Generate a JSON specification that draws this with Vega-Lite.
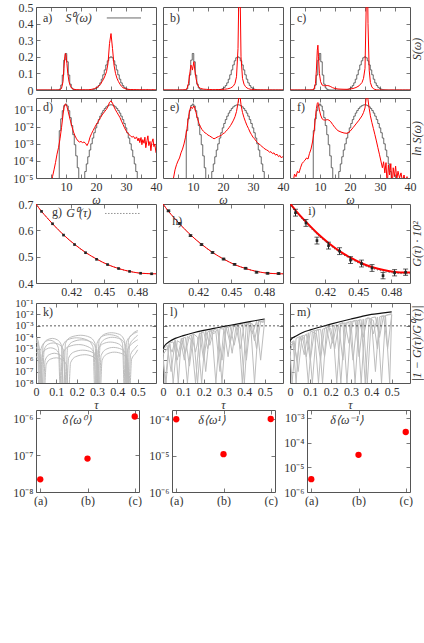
{
"$schema":"https://vega.github.io/schema/vega-lite/v6.json",
"background":"white",
"padding":{"left":12,"top":0,"right":2,"bottom":0},
"columns":5,
"bounds":"flush",
"align":{"row":"each","column":"each"},
"spacing":{"row":8,"column":1},
"config":{
 "font":"Liberation Serif",
 "view":{"stroke":"#555","strokeWidth":1},
 "axis":{"domain":false,"grid":false,"ticks":true,"tickSize":-4,"tickColor":"#555","tickWidth":0.8,"domainColor":"#555","domainWidth":1,"labelFont":"Liberation Serif","labelFontSize":12,"labelColor":"#333","labelPadding":7,"labelFlush":false,"labelOverlap":false,"titleFont":"Liberation Serif","titleFontSize":13,"titleColor":"#333","titleFontWeight":"normal"},
 "text":{"font":"Liberation Serif","fontSize":12,"color":"#333"}
},
"datasets":{
 "s0":[{"w":0,"s":1e-9},{"w":7.5,"s":1e-9},{"w":8,"s":0.006},{"w":8.5,"s":0.03},{"w":9,"s":0.09},{"w":9.5,"s":0.18},{"w":10,"s":0.22},{"w":10.5,"s":0.17},{"w":11,"s":0.09},{"w":11.5,"s":0.035},{"w":12,"s":0.012},{"w":12.5,"s":0.0035},{"w":13,"s":0.0009},{"w":13.5,"s":0.0002},{"w":14,"s":4e-5},{"w":14.5,"s":8e-6},{"w":15,"s":1e-9},{"w":15.5,"s":2.5e-6},{"w":16,"s":8e-6},{"w":16.5,"s":2.4e-5},{"w":17,"s":6.7e-5},{"w":17.5,"s":0.000177},{"w":18,"s":0.00044},{"w":18.5,"s":0.00102},{"w":19,"s":0.00222},{"w":19.5,"s":0.00456},{"w":20,"s":0.0088},{"w":20.5,"s":0.0159},{"w":21,"s":0.027},{"w":21.5,"s":0.043},{"w":22,"s":0.065},{"w":22.5,"s":0.0916},{"w":23,"s":0.121},{"w":23.5,"s":0.151},{"w":24,"s":0.176},{"w":24.5,"s":0.194},{"w":25,"s":0.2},{"w":25.5,"s":0.194},{"w":26,"s":0.176},{"w":26.5,"s":0.151},{"w":27,"s":0.121},{"w":27.5,"s":0.0916},{"w":28,"s":0.065},{"w":28.5,"s":0.043},{"w":29,"s":0.027},{"w":29.5,"s":0.0159},{"w":30,"s":0.0088},{"w":30.5,"s":0.00456},{"w":31,"s":0.00222},{"w":31.5,"s":0.00102},{"w":32,"s":0.00044},{"w":32.5,"s":0.000177},{"w":33,"s":6.7e-5},{"w":33.5,"s":2.4e-5},{"w":34,"s":8e-6},{"w":34.5,"s":2.5e-6},{"w":35,"s":1e-9},{"w":40,"s":1e-9}],
 "ra":[{"w":0,"s":1e-9},{"w":5,"s":3e-6},{"w":5.5,"s":1.2e-5},{"w":6,"s":3e-5},{"w":6.5,"s":8e-5},{"w":7,"s":0.00025},{"w":7.5,"s":0.0006},{"w":8,"s":0.002},{"w":8.5,"s":0.009},{"w":9,"s":0.05},{"w":9.3,"s":0.13},{"w":9.6,"s":0.2},{"w":9.8,"s":0.22},{"w":10,"s":0.21},{"w":10.3,"s":0.16},{"w":10.6,"s":0.1},{"w":11,"s":0.05},{"w":11.5,"s":0.022},{"w":12,"s":0.01},{"w":12.5,"s":0.005},{"w":13,"s":0.003},{"w":13.5,"s":0.002},{"w":14,"s":0.0015},{"w":14.5,"s":0.0013},{"w":15,"s":0.0014},{"w":15.5,"s":0.0012},{"w":16,"s":0.0013},{"w":16.5,"s":0.0011},{"w":17,"s":0.0008},{"w":17.5,"s":0.0012},{"w":18,"s":0.0025},{"w":18.5,"s":0.004},{"w":19,"s":0.006},{"w":19.5,"s":0.009},{"w":20,"s":0.013},{"w":20.5,"s":0.018},{"w":21,"s":0.025},{"w":21.5,"s":0.035},{"w":22,"s":0.05},{"w":22.5,"s":0.065},{"w":23,"s":0.085},{"w":23.5,"s":0.11},{"w":24,"s":0.16},{"w":24.5,"s":0.28},{"w":25,"s":0.34},{"w":25.5,"s":0.25},{"w":26,"s":0.15},{"w":26.5,"s":0.1},{"w":27,"s":0.07},{"w":27.5,"s":0.05},{"w":28,"s":0.035},{"w":28.5,"s":0.022},{"w":29,"s":0.014},{"w":29.5,"s":0.009},{"w":30,"s":0.006},{"w":30.5,"s":0.0045},{"w":31,"s":0.0035},{"w":31.5,"s":0.003},{"w":32,"s":0.0025},{"w":32.5,"s":0.0028},{"w":33,"s":0.002},{"w":33.5,"s":0.0026},{"w":34,"s":0.0015},{"w":34.3,"s":0.0022},{"w":34.6,"s":0.0012},{"w":35,"s":0.0024},{"w":35.3,"s":0.0009},{"w":35.6,"s":0.0018},{"w":36,"s":0.0011},{"w":36.3,"s":0.0025},{"w":36.6,"s":0.0006},{"w":37,"s":0.0016},{"w":37.3,"s":0.003},{"w":37.6,"s":0.0008},{"w":38,"s":0.0014},{"w":38.3,"s":0.0004},{"w":38.6,"s":0.0012},{"w":39,"s":0.002},{"w":39.3,"s":0.0007},{"w":39.6,"s":0.001},{"w":40,"s":0.0003}],
 "rb":[{"w":0,"s":1e-9},{"w":3.5,"s":1e-5},{"w":4,"s":3e-5},{"w":4.5,"s":6e-5},{"w":5,"s":0.0001},{"w":5.5,"s":0.00015},{"w":6,"s":0.0003},{"w":6.5,"s":0.0005},{"w":7,"s":0.001},{"w":7.5,"s":0.0025},{"w":8,"s":0.008},{"w":8.5,"s":0.04},{"w":9,"s":0.11},{"w":9.3,"s":0.15},{"w":9.6,"s":0.14},{"w":9.8,"s":0.12},{"w":10,"s":0.14},{"w":10.3,"s":0.17},{"w":10.6,"s":0.12},{"w":11,"s":0.07},{"w":11.5,"s":0.03},{"w":12,"s":0.016},{"w":12.5,"s":0.01},{"w":13,"s":0.007},{"w":13.5,"s":0.0055},{"w":14,"s":0.0045},{"w":14.5,"s":0.004},{"w":15,"s":0.0033},{"w":15.5,"s":0.003},{"w":16,"s":0.0026},{"w":16.5,"s":0.0023},{"w":17,"s":0.002},{"w":17.5,"s":0.0022},{"w":18,"s":0.0025},{"w":18.5,"s":0.0027},{"w":19,"s":0.003},{"w":19.5,"s":0.0033},{"w":20,"s":0.004},{"w":20.5,"s":0.0045},{"w":21,"s":0.0055},{"w":21.5,"s":0.007},{"w":22,"s":0.009},{"w":22.5,"s":0.012},{"w":23,"s":0.017},{"w":23.5,"s":0.025},{"w":24,"s":0.04},{"w":24.5,"s":0.08},{"w":25,"s":0.25},{"w":25.3,"s":0.6},{"w":25.5,"s":0.9},{"w":25.7,"s":0.6},{"w":26,"s":0.2},{"w":26.5,"s":0.07},{"w":27,"s":0.035},{"w":27.5,"s":0.02},{"w":28,"s":0.012},{"w":28.5,"s":0.008},{"w":29,"s":0.005},{"w":29.5,"s":0.0035},{"w":30,"s":0.0025},{"w":30.5,"s":0.002},{"w":31,"s":0.0015},{"w":31.5,"s":0.0012},{"w":32,"s":0.001},{"w":32.5,"s":0.00085},{"w":33,"s":0.0007},{"w":33.5,"s":0.0006},{"w":34,"s":0.0005},{"w":34.5,"s":0.00045},{"w":35,"s":0.0004},{"w":35.5,"s":0.00033},{"w":36,"s":0.00035},{"w":36.5,"s":0.00027},{"w":37,"s":0.0003},{"w":37.5,"s":0.00022},{"w":38,"s":0.00025},{"w":38.5,"s":0.00018},{"w":39,"s":0.00021},{"w":39.5,"s":0.00015},{"w":40,"s":0.00019}],
 "rc":[{"w":0,"s":1e-9},{"w":1,"s":5e-6},{"w":1.5,"s":1.7e-5},{"w":2,"s":1.2e-5},{"w":2.5,"s":2.5e-5},{"w":3,"s":2e-5},{"w":3.5,"s":4e-5},{"w":4,"s":7e-5},{"w":4.5,"s":9e-5},{"w":5,"s":0.00011},{"w":5.5,"s":0.00015},{"w":6,"s":0.00013},{"w":6.5,"s":0.00028},{"w":7,"s":0.0005},{"w":7.5,"s":0.0013},{"w":8,"s":0.005},{"w":8.5,"s":0.04},{"w":8.8,"s":0.12},{"w":9.1,"s":0.24},{"w":9.3,"s":0.27},{"w":9.5,"s":0.2},{"w":9.8,"s":0.1},{"w":10.2,"s":0.05},{"w":10.7,"s":0.03},{"w":11.2,"s":0.026},{"w":11.8,"s":0.025},{"w":12.4,"s":0.027},{"w":13,"s":0.025},{"w":13.6,"s":0.02},{"w":14.2,"s":0.014},{"w":15,"s":0.009},{"w":16,"s":0.006},{"w":17,"s":0.005},{"w":18,"s":0.0044},{"w":19,"s":0.0042},{"w":20,"s":0.0055},{"w":21,"s":0.009},{"w":22,"s":0.015},{"w":23,"s":0.025},{"w":24,"s":0.045},{"w":24.5,"s":0.07},{"w":25,"s":0.13},{"w":25.4,"s":0.5},{"w":25.7,"s":0.9},{"w":26,"s":0.4},{"w":26.4,"s":0.12},{"w":26.8,"s":0.045},{"w":27.3,"s":0.018},{"w":27.8,"s":0.008},{"w":28.3,"s":0.0035},{"w":28.8,"s":0.0015},{"w":29.3,"s":0.0006},{"w":29.8,"s":0.00025},{"w":30.3,"s":0.0001},{"w":30.8,"s":4e-5},{"w":31.2,"s":9e-5},{"w":31.6,"s":2e-5},{"w":32,"s":8e-5},{"w":32.4,"s":3e-6},{"w":32.8,"s":6e-5},{"w":33.2,"s":1.5e-5},{"w":33.6,"s":7e-5},{"w":34,"s":2e-6},{"w":34.4,"s":4e-5},{"w":34.8,"s":1.2e-5},{"w":35.2,"s":5e-5},{"w":35.6,"s":8e-6},{"w":36,"s":2.5e-5},{"w":36.5,"s":1e-5},{"w":37,"s":2e-5},{"w":37.5,"s":6e-6},{"w":38,"s":1.5e-5},{"w":38.5,"s":5e-6},{"w":39,"s":1.2e-5},{"w":39.5,"s":4e-6},{"w":40,"s":8e-6}],
 "gcurve":[{"t":0.388,"g":0.7},{"t":0.393,"g":0.672},{"t":0.398,"g":0.648},{"t":0.403,"g":0.625},{"t":0.408,"g":0.603},{"t":0.413,"g":0.583},{"t":0.418,"g":0.564},{"t":0.423,"g":0.547},{"t":0.428,"g":0.531},{"t":0.433,"g":0.516},{"t":0.438,"g":0.503},{"t":0.443,"g":0.491},{"t":0.448,"g":0.48},{"t":0.453,"g":0.47},{"t":0.458,"g":0.462},{"t":0.463,"g":0.455},{"t":0.468,"g":0.449},{"t":0.473,"g":0.444},{"t":0.478,"g":0.44},{"t":0.483,"g":0.437},{"t":0.488,"g":0.436},{"t":0.493,"g":0.435},{"t":0.497,"g":0.435}],
 "icurve":[{"t":0.388,"g":0.702},{"t":0.393,"g":0.676},{"t":0.403,"g":0.63},{"t":0.413,"g":0.588},{"t":0.423,"g":0.552},{"t":0.433,"g":0.521},{"t":0.443,"g":0.496},{"t":0.453,"g":0.475},{"t":0.463,"g":0.46},{"t":0.473,"g":0.449},{"t":0.483,"g":0.442},{"t":0.493,"g":0.44},{"t":0.497,"g":0.44}],
 "gpts":[{"t":0.393,"g":0.672},{"t":0.403,"g":0.625},{"t":0.413,"g":0.582},{"t":0.423,"g":0.546},{"t":0.433,"g":0.515},{"t":0.443,"g":0.49},{"t":0.453,"g":0.47},{"t":0.463,"g":0.455},{"t":0.473,"g":0.444},{"t":0.483,"g":0.437},{"t":0.493,"g":0.435}],
 "hpts":[{"t":0.393,"g":0.674,"lo":0.671,"hi":0.677},{"t":0.403,"g":0.626,"lo":0.623,"hi":0.629},{"t":0.413,"g":0.58,"lo":0.577,"hi":0.583},{"t":0.423,"g":0.546,"lo":0.543,"hi":0.549},{"t":0.433,"g":0.516,"lo":0.513,"hi":0.519},{"t":0.443,"g":0.491,"lo":0.488,"hi":0.494},{"t":0.453,"g":0.471,"lo":0.468,"hi":0.474},{"t":0.463,"g":0.456,"lo":0.453,"hi":0.459},{"t":0.473,"g":0.441,"lo":0.438,"hi":0.444},{"t":0.483,"g":0.437,"lo":0.434,"hi":0.44},{"t":0.493,"g":0.436,"lo":0.433,"hi":0.439}],
 "ipts":[{"t":0.393,"g":0.667,"lo":0.654,"hi":0.68},{"t":0.4025,"g":0.628,"lo":0.615,"hi":0.641},{"t":0.4125,"g":0.561,"lo":0.548,"hi":0.574},{"t":0.423,"g":0.542,"lo":0.529,"hi":0.555},{"t":0.433,"g":0.521,"lo":0.508,"hi":0.534},{"t":0.443,"g":0.487,"lo":0.474,"hi":0.5},{"t":0.453,"g":0.474,"lo":0.461,"hi":0.487},{"t":0.4625,"g":0.457,"lo":0.444,"hi":0.47},{"t":0.4725,"g":0.428,"lo":0.416,"hi":0.44},{"t":0.483,"g":0.439,"lo":0.427,"hi":0.451},{"t":0.493,"g":0.441,"lo":0.429,"hi":0.453}],
 "kg":[
  {"c":1,"t":0,"v":1e-4},{"c":1,"t":0.012,"v":4e-5},{"c":1,"t":0.025,"v":1e-9},{"c":1,"t":0.035,"v":2e-5},{"c":1,"t":0.055,"v":6e-5},{"c":1,"t":0.08,"v":8e-5},{"c":1,"t":0.105,"v":6e-5},{"c":1,"t":0.125,"v":2e-5},{"c":1,"t":0.135,"v":1e-9},{"c":1,"t":0.145,"v":3e-5},{"c":1,"t":0.17,"v":1e-4},{"c":1,"t":0.22,"v":1.5e-4},{"c":1,"t":0.265,"v":1e-4},{"c":1,"t":0.29,"v":3e-5},{"c":1,"t":0.3,"v":1e-9},{"c":1,"t":0.31,"v":5e-5},{"c":1,"t":0.335,"v":1.8e-4},{"c":1,"t":0.37,"v":2.5e-4},{"c":1,"t":0.41,"v":1.8e-4},{"c":1,"t":0.435,"v":5e-5},{"c":1,"t":0.445,"v":1e-9},{"c":1,"t":0.455,"v":6e-5},{"c":1,"t":0.475,"v":2e-4},{"c":1,"t":0.5,"v":4e-4},
  {"c":2,"t":0,"v":4e-5},{"c":2,"t":0.015,"v":1.5e-5},{"c":2,"t":0.03,"v":1e-9},{"c":2,"t":0.04,"v":8e-6},{"c":2,"t":0.06,"v":2.5e-5},{"c":2,"t":0.085,"v":3.2e-5},{"c":2,"t":0.11,"v":2.5e-5},{"c":2,"t":0.135,"v":8e-6},{"c":2,"t":0.145,"v":1e-9},{"c":2,"t":0.155,"v":1.2e-5},{"c":2,"t":0.18,"v":4e-5},{"c":2,"t":0.225,"v":6e-5},{"c":2,"t":0.27,"v":4e-5},{"c":2,"t":0.295,"v":1.2e-5},{"c":2,"t":0.305,"v":1e-9},{"c":2,"t":0.315,"v":2e-5},{"c":2,"t":0.34,"v":7e-5},{"c":2,"t":0.375,"v":1e-4},{"c":2,"t":0.415,"v":7e-5},{"c":2,"t":0.44,"v":2e-5},{"c":2,"t":0.45,"v":1e-9},{"c":2,"t":0.46,"v":2e-5},{"c":2,"t":0.48,"v":7e-5},{"c":2,"t":0.5,"v":1.5e-4},
  {"c":3,"t":0,"v":1.5e-5},{"c":3,"t":0.01,"v":5e-6},{"c":3,"t":0.02,"v":1e-9},{"c":3,"t":0.03,"v":3e-6},{"c":3,"t":0.05,"v":9e-6},{"c":3,"t":0.072,"v":1.2e-5},{"c":3,"t":0.095,"v":9e-6},{"c":3,"t":0.115,"v":3e-6},{"c":3,"t":0.125,"v":1e-9},{"c":3,"t":0.135,"v":5e-6},{"c":3,"t":0.16,"v":1.5e-5},{"c":3,"t":0.21,"v":2.3e-5},{"c":3,"t":0.255,"v":1.5e-5},{"c":3,"t":0.285,"v":5e-6},{"c":3,"t":0.295,"v":1e-9},{"c":3,"t":0.305,"v":8e-6},{"c":3,"t":0.33,"v":2.7e-5},{"c":3,"t":0.365,"v":3.8e-5},{"c":3,"t":0.405,"v":2.7e-5},{"c":3,"t":0.43,"v":8e-6},{"c":3,"t":0.44,"v":1e-9},{"c":3,"t":0.45,"v":8e-6},{"c":3,"t":0.475,"v":3e-5},{"c":3,"t":0.5,"v":6e-5},
  {"c":4,"t":0,"v":5e-6},{"c":4,"t":0.018,"v":2e-6},{"c":4,"t":0.035,"v":1e-9},{"c":4,"t":0.045,"v":1e-6},{"c":4,"t":0.065,"v":3e-6},{"c":4,"t":0.09,"v":4e-6},{"c":4,"t":0.115,"v":3e-6},{"c":4,"t":0.14,"v":1e-6},{"c":4,"t":0.15,"v":1e-9},{"c":4,"t":0.16,"v":1.5e-6},{"c":4,"t":0.185,"v":5e-6},{"c":4,"t":0.23,"v":7.5e-6},{"c":4,"t":0.275,"v":5e-6},{"c":4,"t":0.3,"v":1.5e-6},{"c":4,"t":0.31,"v":1e-9},{"c":4,"t":0.32,"v":2.5e-6},{"c":4,"t":0.345,"v":9e-6},{"c":4,"t":0.38,"v":1.3e-5},{"c":4,"t":0.42,"v":9e-6},{"c":4,"t":0.445,"v":2.5e-6},{"c":4,"t":0.455,"v":1e-9},{"c":4,"t":0.465,"v":3e-6},{"c":4,"t":0.485,"v":1e-5},{"c":4,"t":0.5,"v":2e-5},
  {"c":5,"t":0,"v":7e-5},{"c":5,"t":0.008,"v":2.5e-5},{"c":5,"t":0.015,"v":1e-9},{"c":5,"t":0.025,"v":1e-5},{"c":5,"t":0.045,"v":4e-5},{"c":5,"t":0.068,"v":5.5e-5},{"c":5,"t":0.09,"v":4e-5},{"c":5,"t":0.11,"v":1.2e-5},{"c":5,"t":0.12,"v":1e-9},{"c":5,"t":0.13,"v":1.5e-5},{"c":5,"t":0.155,"v":6e-5},{"c":5,"t":0.2,"v":9e-5},{"c":5,"t":0.25,"v":6e-5},{"c":5,"t":0.28,"v":1.5e-5},{"c":5,"t":0.29,"v":1e-9},{"c":5,"t":0.3,"v":3e-5},{"c":5,"t":0.325,"v":1.2e-4},{"c":5,"t":0.36,"v":1.7e-4},{"c":5,"t":0.4,"v":1.2e-4},{"c":5,"t":0.425,"v":3e-5},{"c":5,"t":0.435,"v":1e-9},{"c":5,"t":0.445,"v":4e-5},{"c":5,"t":0.47,"v":1.5e-4},{"c":5,"t":0.5,"v":3e-4},
  {"c":6,"t":0,"v":2e-6},{"c":6,"t":0.02,"v":8e-7},{"c":6,"t":0.04,"v":1e-9},{"c":6,"t":0.05,"v":4e-7},{"c":6,"t":0.07,"v":1.2e-6},{"c":6,"t":0.1,"v":1.6e-6},{"c":6,"t":0.125,"v":1.2e-6},{"c":6,"t":0.15,"v":4e-7},{"c":6,"t":0.16,"v":1e-9},{"c":6,"t":0.17,"v":6e-7},{"c":6,"t":0.195,"v":2e-6},{"c":6,"t":0.24,"v":3e-6},{"c":6,"t":0.28,"v":2e-6},{"c":6,"t":0.305,"v":6e-7},{"c":6,"t":0.315,"v":1e-9},{"c":6,"t":0.325,"v":1e-6},{"c":6,"t":0.35,"v":3.5e-6},{"c":6,"t":0.385,"v":5e-6},{"c":6,"t":0.425,"v":3.5e-6},{"c":6,"t":0.45,"v":1e-6},{"c":6,"t":0.46,"v":1e-9},{"c":6,"t":0.47,"v":1.2e-6},{"c":6,"t":0.49,"v":4e-6},{"c":6,"t":0.5,"v":8e-6}],
 "lg":[
  {"c":1,"t":0,"v":8e-6},{"c":1,"t":0.02,"v":2e-5},{"c":1,"t":0.04,"v":1e-7},{"c":1,"t":0.06,"v":5e-5},{"c":1,"t":0.08,"v":2e-6},{"c":1,"t":0.1,"v":9e-5},{"c":1,"t":0.12,"v":1e-8},{"c":1,"t":0.14,"v":1.5e-4},{"c":1,"t":0.16,"v":5e-6},{"c":1,"t":0.18,"v":2.5e-4},{"c":1,"t":0.2,"v":1e-6},{"c":1,"t":0.22,"v":3e-4},{"c":1,"t":0.24,"v":4e-4},{"c":1,"t":0.26,"v":1e-8},{"c":1,"t":0.28,"v":6e-4},{"c":1,"t":0.3,"v":5e-4},{"c":1,"t":0.32,"v":2e-6},{"c":1,"t":0.34,"v":1e-3},{"c":1,"t":0.36,"v":8e-4},{"c":1,"t":0.38,"v":1e-5},{"c":1,"t":0.4,"v":1.5e-3},{"c":1,"t":0.42,"v":1.2e-3},{"c":1,"t":0.44,"v":2e-4},{"c":1,"t":0.46,"v":2.5e-3},{"c":1,"t":0.48,"v":1e-6},{"c":1,"t":0.5,"v":3e-3},
  {"c":2,"t":0,"v":5e-6},{"c":2,"t":0.01,"v":1e-8},{"c":2,"t":0.03,"v":3e-5},{"c":2,"t":0.05,"v":4e-5},{"c":2,"t":0.07,"v":1e-6},{"c":2,"t":0.09,"v":7e-5},{"c":2,"t":0.11,"v":1e-4},{"c":2,"t":0.13,"v":3e-7},{"c":2,"t":0.15,"v":2e-4},{"c":2,"t":0.17,"v":1e-4},{"c":2,"t":0.19,"v":1e-8},{"c":2,"t":0.21,"v":3.5e-4},{"c":2,"t":0.23,"v":2e-5},{"c":2,"t":0.25,"v":5e-4},{"c":2,"t":0.27,"v":4e-4},{"c":2,"t":0.29,"v":1e-6},{"c":2,"t":0.31,"v":8e-4},{"c":2,"t":0.33,"v":3e-5},{"c":2,"t":0.35,"v":1.1e-3},{"c":2,"t":0.37,"v":1e-3},{"c":2,"t":0.39,"v":1e-8},{"c":2,"t":0.41,"v":1.6e-3},{"c":2,"t":0.43,"v":2e-3},{"c":2,"t":0.45,"v":5e-5},{"c":2,"t":0.47,"v":2.8e-3},{"c":2,"t":0.49,"v":2e-3},{"c":2,"t":0.5,"v":3.5e-3},
  {"c":3,"t":0,"v":3e-6},{"c":3,"t":0.02,"v":1e-5},{"c":3,"t":0.035,"v":2.5e-5},{"c":3,"t":0.05,"v":1e-8},{"c":3,"t":0.07,"v":5e-5},{"c":3,"t":0.09,"v":3e-5},{"c":3,"t":0.105,"v":1e-6},{"c":3,"t":0.12,"v":1.2e-4},{"c":3,"t":0.14,"v":6e-5},{"c":3,"t":0.16,"v":1e-8},{"c":3,"t":0.18,"v":2e-4},{"c":3,"t":0.2,"v":3e-4},{"c":3,"t":0.22,"v":1e-5},{"c":3,"t":0.24,"v":4.5e-4},{"c":3,"t":0.26,"v":3e-4},{"c":3,"t":0.28,"v":1e-7},{"c":3,"t":0.3,"v":7e-4},{"c":3,"t":0.32,"v":8e-4},{"c":3,"t":0.34,"v":4e-6},{"c":3,"t":0.36,"v":1.2e-3},{"c":3,"t":0.38,"v":7e-4},{"c":3,"t":0.4,"v":1e-8},{"c":3,"t":0.42,"v":1.8e-3},{"c":3,"t":0.44,"v":1.5e-3},{"c":3,"t":0.46,"v":1e-5},{"c":3,"t":0.48,"v":2.5e-3},{"c":3,"t":0.5,"v":2e-3},
  {"c":4,"t":0,"v":1e-6},{"c":4,"t":0.015,"v":1e-8},{"c":4,"t":0.03,"v":2e-5},{"c":4,"t":0.045,"v":5e-6},{"c":4,"t":0.06,"v":6e-5},{"c":4,"t":0.075,"v":1e-8},{"c":4,"t":0.09,"v":8e-5},{"c":4,"t":0.11,"v":4e-6},{"c":4,"t":0.13,"v":1.3e-4},{"c":4,"t":0.15,"v":1.8e-4},{"c":4,"t":0.17,"v":1e-8},{"c":4,"t":0.19,"v":3e-4},{"c":4,"t":0.21,"v":1e-7},{"c":4,"t":0.23,"v":4e-4},{"c":4,"t":0.25,"v":2e-4},{"c":4,"t":0.27,"v":5e-4},{"c":4,"t":0.29,"v":1e-8},{"c":4,"t":0.31,"v":7e-4},{"c":4,"t":0.33,"v":9e-4},{"c":4,"t":0.35,"v":2e-5},{"c":4,"t":0.37,"v":1.1e-3},{"c":4,"t":0.39,"v":1.5e-3},{"c":4,"t":0.41,"v":1e-6},{"c":4,"t":0.43,"v":2e-3},{"c":4,"t":0.45,"v":1e-8},{"c":4,"t":0.47,"v":2.2e-3},{"c":4,"t":0.5,"v":3e-3}],
 "mg":[
  {"c":1,"t":0,"v":3e-5},{"c":1,"t":0.02,"v":5e-5},{"c":1,"t":0.04,"v":1e-7},{"c":1,"t":0.06,"v":1.5e-4},{"c":1,"t":0.08,"v":2e-6},{"c":1,"t":0.1,"v":3e-4},{"c":1,"t":0.12,"v":4e-4},{"c":1,"t":0.14,"v":1e-8},{"c":1,"t":0.16,"v":5e-4},{"c":1,"t":0.18,"v":7e-4},{"c":1,"t":0.2,"v":1e-5},{"c":1,"t":0.22,"v":1.2e-3},{"c":1,"t":0.24,"v":1e-3},{"c":1,"t":0.26,"v":1e-6},{"c":1,"t":0.28,"v":2e-3},{"c":1,"t":0.3,"v":2.5e-3},{"c":1,"t":0.32,"v":1e-8},{"c":1,"t":0.34,"v":3.5e-3},{"c":1,"t":0.36,"v":1e-4},{"c":1,"t":0.38,"v":5e-3},{"c":1,"t":0.4,"v":4e-3},{"c":1,"t":0.42,"v":1e-7},{"c":1,"t":0.44,"v":6e-3},{"c":1,"t":0.46,"v":8e-3},{"c":1,"t":0.48,"v":1e-5},{"c":1,"t":0.5,"v":1e-2},
  {"c":2,"t":0,"v":1e-5},{"c":2,"t":0.01,"v":1e-8},{"c":2,"t":0.03,"v":8e-5},{"c":2,"t":0.05,"v":1.2e-4},{"c":2,"t":0.07,"v":3e-6},{"c":2,"t":0.09,"v":2.5e-4},{"c":2,"t":0.11,"v":1e-8},{"c":2,"t":0.13,"v":4e-4},{"c":2,"t":0.15,"v":5e-4},{"c":2,"t":0.17,"v":2e-6},{"c":2,"t":0.19,"v":9e-4},{"c":2,"t":0.21,"v":1e-3},{"c":2,"t":0.23,"v":1e-8},{"c":2,"t":0.25,"v":1.5e-3},{"c":2,"t":0.27,"v":1.8e-3},{"c":2,"t":0.29,"v":3e-5},{"c":2,"t":0.31,"v":2.5e-3},{"c":2,"t":0.33,"v":3e-3},{"c":2,"t":0.35,"v":1e-8},{"c":2,"t":0.37,"v":4e-3},{"c":2,"t":0.39,"v":5e-3},{"c":2,"t":0.41,"v":2e-4},{"c":2,"t":0.43,"v":6e-3},{"c":2,"t":0.45,"v":1e-8},{"c":2,"t":0.47,"v":8e-3},{"c":2,"t":0.5,"v":1.2e-2},
  {"c":3,"t":0,"v":2e-5},{"c":3,"t":0.02,"v":3e-5},{"c":3,"t":0.035,"v":1e-6},{"c":3,"t":0.05,"v":1e-4},{"c":3,"t":0.07,"v":1.5e-4},{"c":3,"t":0.09,"v":1e-8},{"c":3,"t":0.11,"v":3e-4},{"c":3,"t":0.13,"v":2e-4},{"c":3,"t":0.15,"v":1e-6},{"c":3,"t":0.17,"v":6e-4},{"c":3,"t":0.19,"v":1e-3},{"c":3,"t":0.21,"v":3e-5},{"c":3,"t":0.23,"v":1.3e-3},{"c":3,"t":0.25,"v":1e-8},{"c":3,"t":0.27,"v":1.7e-3},{"c":3,"t":0.29,"v":2e-3},{"c":3,"t":0.31,"v":1e-6},{"c":3,"t":0.33,"v":2.7e-3},{"c":3,"t":0.35,"v":3.5e-3},{"c":3,"t":0.37,"v":1e-8},{"c":3,"t":0.39,"v":4.5e-3},{"c":3,"t":0.41,"v":3e-3},{"c":3,"t":0.43,"v":1e-5},{"c":3,"t":0.45,"v":7e-3},{"c":3,"t":0.47,"v":6e-3},{"c":3,"t":0.49,"v":1e-8},{"c":3,"t":0.5,"v":9e-3},
  {"c":4,"t":0,"v":5e-6},{"c":4,"t":0.015,"v":4e-5},{"c":4,"t":0.03,"v":1e-8},{"c":4,"t":0.045,"v":9e-5},{"c":4,"t":0.06,"v":6e-5},{"c":4,"t":0.08,"v":2e-4},{"c":4,"t":0.1,"v":1e-6},{"c":4,"t":0.12,"v":3.5e-4},{"c":4,"t":0.14,"v":5e-4},{"c":4,"t":0.16,"v":1e-8},{"c":4,"t":0.18,"v":8e-4},{"c":4,"t":0.2,"v":6e-4},{"c":4,"t":0.22,"v":1e-5},{"c":4,"t":0.24,"v":1.4e-3},{"c":4,"t":0.26,"v":2e-3},{"c":4,"t":0.28,"v":1e-8},{"c":4,"t":0.3,"v":2.2e-3},{"c":4,"t":0.32,"v":3e-3},{"c":4,"t":0.34,"v":2e-6},{"c":4,"t":0.36,"v":4e-3},{"c":4,"t":0.38,"v":1e-8},{"c":4,"t":0.4,"v":5e-3},{"c":4,"t":0.42,"v":6e-3},{"c":4,"t":0.44,"v":1e-4},{"c":4,"t":0.46,"v":7e-3},{"c":4,"t":0.48,"v":9e-3},{"c":4,"t":0.5,"v":1e-2}],
 "lb":[{"t":0,"v":1e-5},{"t":0.01,"v":2e-5},{"t":0.03,"v":4e-5},{"t":0.06,"v":8e-5},{"t":0.1,"v":1.4e-4},{"t":0.15,"v":2.5e-4},{"t":0.2,"v":4e-4},{"t":0.25,"v":6e-4},{"t":0.3,"v":9e-4},{"t":0.35,"v":1.3e-3},{"t":0.4,"v":1.9e-3},{"t":0.45,"v":2.8e-3},{"t":0.5,"v":4e-3}],
 "mb":[{"t":0,"v":5e-5},{"t":0.01,"v":8e-5},{"t":0.03,"v":1.3e-4},{"t":0.06,"v":2.5e-4},{"t":0.1,"v":4.5e-4},{"t":0.15,"v":8e-4},{"t":0.2,"v":1.4e-3},{"t":0.25,"v":2.4e-3},{"t":0.3,"v":4e-3},{"t":0.35,"v":6.5e-3},{"t":0.4,"v":1e-2},{"t":0.45,"v":1.3e-2},{"t":0.5,"v":1.7e-2}],
 "d5a":[{"i":0,"v":2.2e-8},{"i":1,"v":8e-8},{"i":2,"v":1.1e-6}],
 "d5b":[{"i":0,"v":1e-4},{"i":1,"v":1.1e-5},{"i":2,"v":1.02e-4}],
 "d5c":[{"i":0,"v":3.3e-6},{"i":1,"v":3.2e-5},{"i":2,"v":2.7e-4}]
},
"concat":[
 {"width":120,"height":83,"resolve":{"axis":{"x":"independent","y":"independent"}},"layer":[
  {"data":{"name":"s0"},"mark":{"type":"line","interpolate":"step","color":"#444","strokeWidth":0.8,"clip":true},"encoding":{"x":{"field":"w","type":"quantitative","scale":{"domain":[0,40],"nice":false},"axis":{"values":[5,10,15,20,25,30,35],"labels":false,"title":null}},"y":{"field":"s","type":"quantitative","scale":{"domain":[0,0.5],"nice":false},"axis":{"values":[0,0.1,0.2,0.3,0.4,0.5],"labelExpr":"datum.value == 0 ? '0' : format(datum.value, '.1f')","title":null}}}},
  {"data":{"name":"ra"},"mark":{"type":"line","color":"#ff0000","strokeWidth":1,"clip":true},"encoding":{"x":{"field":"w","type":"quantitative","axis":null},"y":{"field":"s","type":"quantitative","axis":null}}},
  {"data":{"values":[{}]},"mark":{"type":"text","align":"left","baseline":"middle"},"encoding":{"x":{"datum":2.3,"type":"quantitative","axis":null},"y":{"datum":0.434,"type":"quantitative","axis":null},"text":{"value":"a)"}}},
  {"data":{"values":[{}]},"mark":{"type":"text","align":"left","baseline":"middle","fontStyle":"italic"},"encoding":{"x":{"datum":9.8,"type":"quantitative","axis":null},"y":{"datum":0.434,"type":"quantitative","axis":null},"text":{"value":"S⁰(ω)"}}},
  {"data":{"values":[{}]},"mark":{"type":"rule","color":"#444","strokeWidth":0.8},"encoding":{"x":{"datum":23.6,"type":"quantitative","axis":null},"x2":{"datum":35},"y":{"datum":0.434,"type":"quantitative","axis":null}}},
  {"data":{"name":"s0"},"mark":{"type":"point","opacity":0,"clip":true},"encoding":{"x":{"field":"w","type":"quantitative","axis":{"orient":"top","values":[5,10,15,20,25,30,35],"labels":false,"title":null}},"y":{"field":"s","type":"quantitative","axis":{"orient":"right","values":[0.1,0.2,0.3,0.4],"labels":false,"title":null}}}}
 ]},
 {"width":5,"height":10,"view":{"stroke":"transparent"},"data":{"values":[{}]},"mark":{"type":"point","opacity":0}},
 {"width":120,"height":83,"resolve":{"axis":{"x":"independent","y":"independent"}},"layer":[
  {"data":{"name":"s0"},"mark":{"type":"line","interpolate":"step","color":"#444","strokeWidth":0.8,"clip":true},"encoding":{"x":{"field":"w","type":"quantitative","scale":{"domain":[0,40],"nice":false},"axis":{"values":[5,10,15,20,25,30,35],"labels":false,"title":null}},"y":{"field":"s","type":"quantitative","scale":{"domain":[0,0.5],"nice":false},"axis":{"values":[0.1,0.2,0.3,0.4],"labels":false,"title":null}}}},
  {"data":{"name":"rb"},"mark":{"type":"line","color":"#ff0000","strokeWidth":1,"clip":true},"encoding":{"x":{"field":"w","type":"quantitative","axis":null},"y":{"field":"s","type":"quantitative","axis":null}}},
  {"data":{"values":[{}]},"mark":{"type":"text","align":"left","baseline":"middle"},"encoding":{"x":{"datum":2.3,"type":"quantitative","axis":null},"y":{"datum":0.434,"type":"quantitative","axis":null},"text":{"value":"b)"}}},
  {"data":{"name":"s0"},"mark":{"type":"point","opacity":0,"clip":true},"encoding":{"x":{"field":"w","type":"quantitative","axis":{"orient":"top","values":[5,10,15,20,25,30,35],"labels":false,"title":null}},"y":{"field":"s","type":"quantitative","axis":{"orient":"right","values":[0.1,0.2,0.3,0.4],"labels":false,"title":null}}}}
 ]},
 {"width":5,"height":10,"view":{"stroke":"transparent"},"data":{"values":[{}]},"mark":{"type":"point","opacity":0}},
 {"width":120,"height":83,"resolve":{"axis":{"x":"independent","y":"independent"}},"layer":[
  {"data":{"name":"s0"},"mark":{"type":"line","interpolate":"step","color":"#444","strokeWidth":0.8,"clip":true},"encoding":{"x":{"field":"w","type":"quantitative","scale":{"domain":[0,40],"nice":false},"axis":{"values":[5,10,15,20,25,30,35],"labels":false,"title":null}},"y":{"field":"s","type":"quantitative","scale":{"domain":[0,0.5],"nice":false},"axis":{"values":[0.1,0.2,0.3,0.4],"labels":false,"title":null}}}},
  {"data":{"name":"rc"},"mark":{"type":"line","color":"#ff0000","strokeWidth":1,"clip":true},"encoding":{"x":{"field":"w","type":"quantitative","axis":null},"y":{"field":"s","type":"quantitative","axis":null}}},
  {"data":{"values":[{}]},"mark":{"type":"text","align":"left","baseline":"middle"},"encoding":{"x":{"datum":2.3,"type":"quantitative","axis":null},"y":{"datum":0.434,"type":"quantitative","axis":null},"text":{"value":"c)"}}},
  {"data":{"name":"s0"},"mark":{"type":"point","opacity":0,"clip":true},"encoding":{"x":{"field":"w","type":"quantitative","axis":{"orient":"top","values":[5,10,15,20,25,30,35],"labels":false,"title":null}},"y":{"field":"s","type":"quantitative","axis":{"orient":"right","values":[0.1,0.2,0.3,0.4],"labels":false,"title":"S(ω)","titleAngle":270,"titleBaseline":"top","titlePadding":1,"titleFontSize":12,"titleFontStyle":"italic"}}}}
 ]},

 {"width":120,"height":80,"resolve":{"axis":{"x":"independent","y":"independent"}},"layer":[
  {"data":{"name":"s0"},"mark":{"type":"line","interpolate":"step","color":"#444","strokeWidth":0.8,"clip":true},"encoding":{"x":{"field":"w","type":"quantitative","scale":{"domain":[0,40],"nice":false},"axis":{"values":[5,10,15,20,25,30,35,40],"labelExpr":"datum.value % 10 == 0 ? format(datum.value, 'd') : ''","title":"ω","titleFontSize":12,"titleFontStyle":"italic","titlePadding":2}},"y":{"field":"s","type":"quantitative","scale":{"type":"log","domain":[1e-5,0.5],"nice":false},"axis":{"values":[1e-5,1e-4,1e-3,1e-2,1e-1],"labelExpr":"'10' + ['⁰','⁻¹','⁻²','⁻³','⁻⁴','⁻⁵','⁻⁶','⁻⁷','⁻⁸'][-round(log(datum.value)/LN10)]","title":null}}}},
  {"data":{"name":"ra"},"mark":{"type":"line","color":"#ff0000","strokeWidth":1,"clip":true},"encoding":{"x":{"field":"w","type":"quantitative","axis":null},"y":{"field":"s","type":"quantitative","axis":null}}},
  {"data":{"values":[{}]},"mark":{"type":"text","align":"left","baseline":"middle"},"encoding":{"x":{"datum":2.3,"type":"quantitative","axis":null},"y":{"datum":0.145,"type":"quantitative","axis":null},"text":{"value":"d)"}}},
  {"data":{"name":"s0"},"mark":{"type":"point","opacity":0,"clip":true},"encoding":{"x":{"field":"w","type":"quantitative","axis":{"orient":"top","values":[5,10,15,20,25,30,35],"labels":false,"title":null}},"y":{"field":"s","type":"quantitative","axis":{"orient":"right","values":[1e-4,1e-3,1e-2,1e-1],"labels":false,"title":null}}}}
 ]},
 {"width":5,"height":98,"view":{"stroke":"transparent"},"data":{"values":[{}]},"mark":{"type":"point","opacity":0}},
 {"width":120,"height":80,"resolve":{"axis":{"x":"independent","y":"independent"}},"layer":[
  {"data":{"name":"s0"},"mark":{"type":"line","interpolate":"step","color":"#444","strokeWidth":0.8,"clip":true},"encoding":{"x":{"field":"w","type":"quantitative","scale":{"domain":[0,40],"nice":false},"axis":{"values":[5,10,15,20,25,30,35,40],"labelExpr":"datum.value % 10 == 0 ? format(datum.value, 'd') : ''","title":"ω","titleFontSize":12,"titleFontStyle":"italic","titlePadding":2}},"y":{"field":"s","type":"quantitative","scale":{"type":"log","domain":[1e-5,0.5],"nice":false},"axis":{"values":[1e-4,1e-3,1e-2,1e-1],"labels":false,"title":null}}}},
  {"data":{"name":"rb"},"mark":{"type":"line","color":"#ff0000","strokeWidth":1,"clip":true},"encoding":{"x":{"field":"w","type":"quantitative","axis":null},"y":{"field":"s","type":"quantitative","axis":null}}},
  {"data":{"values":[{}]},"mark":{"type":"text","align":"left","baseline":"middle"},"encoding":{"x":{"datum":2.3,"type":"quantitative","axis":null},"y":{"datum":0.145,"type":"quantitative","axis":null},"text":{"value":"e)"}}},
  {"data":{"name":"s0"},"mark":{"type":"point","opacity":0,"clip":true},"encoding":{"x":{"field":"w","type":"quantitative","axis":{"orient":"top","values":[5,10,15,20,25,30,35],"labels":false,"title":null}},"y":{"field":"s","type":"quantitative","axis":{"orient":"right","values":[1e-4,1e-3,1e-2,1e-1],"labels":false,"title":null}}}}
 ]},
 {"width":5,"height":98,"view":{"stroke":"transparent"},"data":{"values":[{}]},"mark":{"type":"point","opacity":0}},
 {"width":120,"height":80,"resolve":{"axis":{"x":"independent","y":"independent"}},"layer":[
  {"data":{"name":"s0"},"mark":{"type":"line","interpolate":"step","color":"#444","strokeWidth":0.8,"clip":true},"encoding":{"x":{"field":"w","type":"quantitative","scale":{"domain":[0,40],"nice":false},"axis":{"values":[5,10,15,20,25,30,35,40],"labelExpr":"datum.value % 10 == 0 ? format(datum.value, 'd') : ''","title":"ω","titleFontSize":12,"titleFontStyle":"italic","titlePadding":2}},"y":{"field":"s","type":"quantitative","scale":{"type":"log","domain":[1e-5,0.5],"nice":false},"axis":{"values":[1e-4,1e-3,1e-2,1e-1],"labels":false,"title":null}}}},
  {"data":{"name":"rc"},"mark":{"type":"line","color":"#ff0000","strokeWidth":1,"clip":true},"encoding":{"x":{"field":"w","type":"quantitative","axis":null},"y":{"field":"s","type":"quantitative","axis":null}}},
  {"data":{"values":[{}]},"mark":{"type":"text","align":"left","baseline":"middle"},"encoding":{"x":{"datum":2.3,"type":"quantitative","axis":null},"y":{"datum":0.145,"type":"quantitative","axis":null},"text":{"value":"f)"}}},
  {"data":{"name":"s0"},"mark":{"type":"point","opacity":0,"clip":true},"encoding":{"x":{"field":"w","type":"quantitative","axis":{"orient":"top","values":[5,10,15,20,25,30,35],"labels":false,"title":null}},"y":{"field":"s","type":"quantitative","axis":{"orient":"right","values":[1e-4,1e-3,1e-2,1e-1],"labels":false,"title":"ln S(ω)","titleAngle":270,"titleBaseline":"top","titlePadding":1,"titleFontSize":12,"titleFontStyle":"italic"}}}}
 ]},

 {"width":120,"height":79,"resolve":{"axis":{"x":"independent","y":"independent"}},"layer":[
  {"data":{"name":"gcurve"},"mark":{"type":"line","color":"#333","strokeWidth":0.8,"strokeDash":[1,2],"clip":true},"encoding":{"x":{"field":"t","type":"quantitative","scale":{"domain":[0.388,0.497],"nice":false,"zero":false},"axis":{"values":[0.42,0.45,0.48],"labelExpr":"format(datum.value, '.2f')","title":null}},"y":{"field":"g","type":"quantitative","scale":{"domain":[0.4,0.7],"nice":false,"zero":false},"axis":{"values":[0.4,0.5,0.6,0.7],"labelExpr":"format(datum.value, '.1f')","title":null}}}},
  {"data":{"name":"gcurve"},"mark":{"type":"line","color":"#ff0000","strokeWidth":1,"clip":true,"interpolate":"monotone"},"encoding":{"x":{"field":"t","type":"quantitative","axis":null},"y":{"field":"g","type":"quantitative","axis":null}}},
  {"data":{"name":"gpts"},"mark":{"type":"square","color":"#222","size":7,"opacity":1},"encoding":{"x":{"field":"t","type":"quantitative","axis":null},"y":{"field":"g","type":"quantitative","axis":null}}},
  {"data":{"values":[{}]},"mark":{"type":"text","align":"left","baseline":"middle"},"encoding":{"x":{"datum":0.4025,"type":"quantitative","axis":null},"y":{"datum":0.668,"type":"quantitative","axis":null},"text":{"value":"g)"}}},
  {"data":{"values":[{}]},"mark":{"type":"text","align":"left","baseline":"middle","fontStyle":"italic"},"encoding":{"x":{"datum":0.4155,"type":"quantitative","axis":null},"y":{"datum":0.664,"type":"quantitative","axis":null},"text":{"value":"G⁰(τ)"}}},
  {"data":{"values":[{}]},"mark":{"type":"rule","color":"#333","strokeWidth":0.8,"strokeDash":[1,2]},"encoding":{"x":{"datum":0.451,"type":"quantitative","axis":null},"x2":{"datum":0.482},"y":{"datum":0.664,"type":"quantitative","axis":null}}},
  {"data":{"name":"gcurve"},"mark":{"type":"point","opacity":0,"clip":true},"encoding":{"x":{"field":"t","type":"quantitative","axis":{"orient":"top","values":[0.42,0.45,0.48],"labels":false,"title":null}},"y":{"field":"g","type":"quantitative","axis":{"orient":"right","values":[0.5,0.6],"labels":false,"title":null}}}}
 ]},
 {"width":5,"height":91,"view":{"stroke":"transparent"},"data":{"values":[{}]},"mark":{"type":"point","opacity":0}},
 {"width":120,"height":79,"resolve":{"axis":{"x":"independent","y":"independent"}},"layer":[
  {"data":{"name":"gcurve"},"mark":{"type":"line","color":"#333","strokeWidth":0.8,"strokeDash":[1,2],"clip":true},"encoding":{"x":{"field":"t","type":"quantitative","scale":{"domain":[0.388,0.497],"nice":false,"zero":false},"axis":{"values":[0.42,0.45,0.48],"labelExpr":"format(datum.value, '.2f')","title":null}},"y":{"field":"g","type":"quantitative","scale":{"domain":[0.4,0.7],"nice":false,"zero":false},"axis":{"values":[0.5,0.6],"labels":false,"title":null}}}},
  {"data":{"name":"gcurve"},"mark":{"type":"line","color":"#ff0000","strokeWidth":1,"clip":true,"interpolate":"monotone"},"encoding":{"x":{"field":"t","type":"quantitative","axis":null},"y":{"field":"g","type":"quantitative","axis":null}}},
  {"data":{"name":"hpts"},"mark":{"type":"rule","color":"#222","strokeWidth":1},"encoding":{"x":{"field":"t","type":"quantitative","axis":null},"y":{"field":"lo","type":"quantitative","axis":null},"y2":{"field":"hi"}}},
  {"data":{"name":"hpts"},"mark":{"type":"tick","orient":"horizontal","color":"#222","size":4,"thickness":1},"encoding":{"x":{"field":"t","type":"quantitative","axis":null},"y":{"field":"lo","type":"quantitative","axis":null}}},
  {"data":{"name":"hpts"},"mark":{"type":"tick","orient":"horizontal","color":"#222","size":4,"thickness":1},"encoding":{"x":{"field":"t","type":"quantitative","axis":null},"y":{"field":"hi","type":"quantitative","axis":null}}},
  {"data":{"name":"hpts"},"mark":{"type":"square","color":"#222","size":7,"opacity":1},"encoding":{"x":{"field":"t","type":"quantitative","axis":null},"y":{"field":"g","type":"quantitative","axis":null}}},
  {"data":{"values":[{}]},"mark":{"type":"text","align":"left","baseline":"middle"},"encoding":{"x":{"datum":0.3965,"type":"quantitative","axis":null},"y":{"datum":0.636,"type":"quantitative","axis":null},"text":{"value":"h)"}}},
  {"data":{"name":"gcurve"},"mark":{"type":"point","opacity":0,"clip":true},"encoding":{"x":{"field":"t","type":"quantitative","axis":{"orient":"top","values":[0.42,0.45,0.48],"labels":false,"title":null}},"y":{"field":"g","type":"quantitative","axis":{"orient":"right","values":[0.5,0.6],"labels":false,"title":null}}}}
 ]},
 {"width":5,"height":91,"view":{"stroke":"transparent"},"data":{"values":[{}]},"mark":{"type":"point","opacity":0}},
 {"width":120,"height":79,"resolve":{"axis":{"x":"independent","y":"independent"}},"layer":[
  {"data":{"name":"icurve"},"mark":{"type":"line","color":"#ff0000","strokeWidth":2,"clip":true,"interpolate":"monotone"},"encoding":{"x":{"field":"t","type":"quantitative","scale":{"domain":[0.388,0.497],"nice":false,"zero":false},"axis":{"values":[0.42,0.45,0.48],"labelExpr":"format(datum.value, '.2f')","title":null}},"y":{"field":"g","type":"quantitative","scale":{"domain":[0.4,0.7],"nice":false,"zero":false},"axis":{"values":[0.5,0.6],"labels":false,"title":null}}}},
  {"data":{"name":"gcurve"},"mark":{"type":"line","color":"#333","strokeWidth":0.8,"strokeDash":[1,2],"clip":true},"encoding":{"x":{"field":"t","type":"quantitative","axis":null},"y":{"field":"g","type":"quantitative","axis":null}}},
  {"data":{"name":"ipts"},"mark":{"type":"rule","color":"#222","strokeWidth":1},"encoding":{"x":{"field":"t","type":"quantitative","axis":null},"y":{"field":"lo","type":"quantitative","axis":null},"y2":{"field":"hi"}}},
  {"data":{"name":"ipts"},"mark":{"type":"tick","orient":"horizontal","color":"#222","size":5,"thickness":1},"encoding":{"x":{"field":"t","type":"quantitative","axis":null},"y":{"field":"lo","type":"quantitative","axis":null}}},
  {"data":{"name":"ipts"},"mark":{"type":"tick","orient":"horizontal","color":"#222","size":5,"thickness":1},"encoding":{"x":{"field":"t","type":"quantitative","axis":null},"y":{"field":"hi","type":"quantitative","axis":null}}},
  {"data":{"name":"ipts"},"mark":{"type":"square","color":"#222","size":7,"opacity":1},"encoding":{"x":{"field":"t","type":"quantitative","axis":null},"y":{"field":"g","type":"quantitative","axis":null}}},
  {"data":{"values":[{}]},"mark":{"type":"text","align":"left","baseline":"middle"},"encoding":{"x":{"datum":0.4045,"type":"quantitative","axis":null},"y":{"datum":0.672,"type":"quantitative","axis":null},"text":{"value":"i)"}}},
  {"data":{"name":"gcurve"},"mark":{"type":"point","opacity":0,"clip":true},"encoding":{"x":{"field":"t","type":"quantitative","axis":{"orient":"top","values":[0.42,0.45,0.48],"labels":false,"title":null}},"y":{"field":"g","type":"quantitative","axis":{"orient":"right","values":[0.5,0.6],"labels":false,"title":"G(τ) · 10²","titleAngle":270,"titleBaseline":"top","titlePadding":1,"titleFontSize":12,"titleFontStyle":"italic"}}}}
 ]},

 {"width":120,"height":80,"resolve":{"axis":{"x":"independent","y":"independent"}},"layer":[
  {"data":{"name":"kg"},"mark":{"type":"line","color":"#bdbdbd","strokeWidth":1,"clip":true,"interpolate":"monotone"},"encoding":{"detail":{"field":"c"},"x":{"field":"t","type":"quantitative","scale":{"domain":[0,0.59],"nice":false},"axis":{"values":[0,0.1,0.2,0.3,0.4,0.5],"labelExpr":"datum.value == 0 ? '0' : format(datum.value, '.1f')","title":"τ","titleFontSize":12,"titleFontStyle":"italic","titlePadding":2}},"y":{"field":"v","type":"quantitative","scale":{"type":"log","domain":[1e-8,0.1],"nice":false},"axis":{"values":[1e-8,1e-7,1e-6,1e-5,1e-4,1e-3,1e-2,1e-1],"labelFontSize":11,"labelExpr":"'10' + ['⁰','⁻¹','⁻²','⁻³','⁻⁴','⁻⁵','⁻⁶','⁻⁷','⁻⁸'][-round(log(datum.value)/LN10)]","title":null}}}},
  {"data":{"values":[{}]},"mark":{"type":"rule","color":"#333","strokeWidth":0.8,"strokeDash":[2,2]},"encoding":{"y":{"datum":0.001,"type":"quantitative","axis":null}}},
  {"data":{"values":[{}]},"mark":{"type":"text","align":"left","baseline":"middle"},"encoding":{"x":{"datum":0.035,"type":"quantitative","axis":null},"y":{"datum":0.016,"type":"quantitative","axis":null},"text":{"value":"k)"}}},
  {"data":{"name":"lb"},"mark":{"type":"point","opacity":0,"clip":true},"encoding":{"x":{"field":"t","type":"quantitative","axis":{"orient":"top","values":[0.1,0.2,0.3,0.4,0.5],"labels":false,"title":null}},"y":{"field":"v","type":"quantitative","axis":{"orient":"right","values":[1e-7,1e-6,1e-5,1e-4,1e-3,1e-2],"labels":false,"title":null}}}}
 ]},
 {"width":5,"height":99,"view":{"stroke":"transparent"},"data":{"values":[{}]},"mark":{"type":"point","opacity":0}},
 {"width":120,"height":80,"resolve":{"axis":{"x":"independent","y":"independent"}},"layer":[
  {"data":{"name":"lg"},"mark":{"type":"line","color":"#bdbdbd","strokeWidth":1,"clip":true},"encoding":{"detail":{"field":"c"},"x":{"field":"t","type":"quantitative","scale":{"domain":[0,0.59],"nice":false},"axis":{"values":[0,0.1,0.2,0.3,0.4,0.5],"labelExpr":"datum.value == 0 ? '0' : format(datum.value, '.1f')","title":"τ","titleFontSize":12,"titleFontStyle":"italic","titlePadding":2}},"y":{"field":"v","type":"quantitative","scale":{"type":"log","domain":[1e-8,0.1],"nice":false},"axis":{"values":[1e-7,1e-6,1e-5,1e-4,1e-3,1e-2],"labels":false,"title":null}}}},
  {"data":{"name":"lb"},"mark":{"type":"line","color":"#111","strokeWidth":1.2,"clip":true,"interpolate":"monotone"},"encoding":{"x":{"field":"t","type":"quantitative","axis":null},"y":{"field":"v","type":"quantitative","axis":null}}},
  {"data":{"values":[{}]},"mark":{"type":"rule","color":"#333","strokeWidth":0.8,"strokeDash":[2,2]},"encoding":{"y":{"datum":0.001,"type":"quantitative","axis":null}}},
  {"data":{"values":[{}]},"mark":{"type":"text","align":"left","baseline":"middle"},"encoding":{"x":{"datum":0.035,"type":"quantitative","axis":null},"y":{"datum":0.016,"type":"quantitative","axis":null},"text":{"value":"l)"}}},
  {"data":{"name":"lb"},"mark":{"type":"point","opacity":0,"clip":true},"encoding":{"x":{"field":"t","type":"quantitative","axis":{"orient":"top","values":[0.1,0.2,0.3,0.4,0.5],"labels":false,"title":null}},"y":{"field":"v","type":"quantitative","axis":{"orient":"right","values":[1e-7,1e-6,1e-5,1e-4,1e-3,1e-2],"labels":false,"title":null}}}}
 ]},
 {"width":5,"height":99,"view":{"stroke":"transparent"},"data":{"values":[{}]},"mark":{"type":"point","opacity":0}},
 {"width":120,"height":80,"resolve":{"axis":{"x":"independent","y":"independent"}},"layer":[
  {"data":{"name":"mg"},"mark":{"type":"line","color":"#bdbdbd","strokeWidth":1,"clip":true},"encoding":{"detail":{"field":"c"},"x":{"field":"t","type":"quantitative","scale":{"domain":[0,0.59],"nice":false},"axis":{"values":[0,0.1,0.2,0.3,0.4,0.5],"labelExpr":"datum.value == 0 ? '0' : format(datum.value, '.1f')","title":"τ","titleFontSize":12,"titleFontStyle":"italic","titlePadding":2}},"y":{"field":"v","type":"quantitative","scale":{"type":"log","domain":[1e-8,0.1],"nice":false},"axis":{"values":[1e-7,1e-6,1e-5,1e-4,1e-3,1e-2],"labels":false,"title":null}}}},
  {"data":{"name":"mb"},"mark":{"type":"line","color":"#111","strokeWidth":1.2,"clip":true,"interpolate":"monotone"},"encoding":{"x":{"field":"t","type":"quantitative","axis":null},"y":{"field":"v","type":"quantitative","axis":null}}},
  {"data":{"values":[{}]},"mark":{"type":"rule","color":"#333","strokeWidth":0.8,"strokeDash":[2,2]},"encoding":{"y":{"datum":0.001,"type":"quantitative","axis":null}}},
  {"data":{"values":[{}]},"mark":{"type":"text","align":"left","baseline":"middle"},"encoding":{"x":{"datum":0.035,"type":"quantitative","axis":null},"y":{"datum":0.016,"type":"quantitative","axis":null},"text":{"value":"m)"}}},
  {"data":{"name":"mb"},"mark":{"type":"point","opacity":0,"clip":true},"encoding":{"x":{"field":"t","type":"quantitative","axis":{"orient":"top","values":[0.1,0.2,0.3,0.4,0.5],"labels":false,"title":null}},"y":{"field":"v","type":"quantitative","axis":{"orient":"right","values":[1e-7,1e-6,1e-5,1e-4,1e-3,1e-2],"labels":false,"title":"|1 − G(τ)/G⁰(τ)|","titleAngle":270,"titleBaseline":"top","titlePadding":1,"titleFontSize":12,"titleFontStyle":"italic"}}}}
 ]},

 {"width":120,"height":82,"view":{"stroke":"transparent"},"resolve":{"axis":{"x":"independent","y":"independent"}},"layer":[
  {"data":{"name":"d5a"},"mark":{"type":"circle","color":"#ff0000","size":40,"opacity":1},"encoding":{"x":{"field":"i","type":"quantitative","scale":{"domain":[-0.09,2.09],"range":[0,103],"nice":false,"zero":false},"axis":{"values":[0,1,2],"domain":true,"labelExpr":"['(a)','(b)','(c)'][datum.value]","title":null}},"y":{"field":"v","type":"quantitative","scale":{"type":"log","domain":[1e-8,1.65e-6],"nice":false},"axis":{"values":[1e-8,1e-7,1e-6],"domain":true,"labelExpr":"'10' + ['⁰','⁻¹','⁻²','⁻³','⁻⁴','⁻⁵','⁻⁶','⁻⁷','⁻⁸'][-round(log(datum.value)/LN10)]","title":null}}}},
  {"data":{"values":[{}]},"mark":{"type":"text","align":"center","baseline":"middle","fontStyle":"italic"},"encoding":{"x":{"datum":0.78,"type":"quantitative","axis":null},"y":{"datum":8.8e-7,"type":"quantitative","axis":null},"text":{"value":"δ⟨ω⁰⟩"}}},
  {"data":{"name":"d5a"},"mark":{"type":"point","opacity":0},"encoding":{"x":{"field":"i","type":"quantitative","axis":{"orient":"top","values":[0,1,2],"domain":true,"labels":false,"title":null}},"y":{"field":"v","type":"quantitative","axis":{"orient":"right","offset":-17,"values":[1e-7,1e-6],"domain":true,"labels":false,"title":null}}}}
 ]},
 {"width":5,"height":10,"view":{"stroke":"transparent"},"data":{"values":[{}]},"mark":{"type":"point","opacity":0}},
 {"width":120,"height":82,"view":{"stroke":"transparent"},"resolve":{"axis":{"x":"independent","y":"independent"}},"layer":[
  {"data":{"name":"d5b"},"mark":{"type":"circle","color":"#ff0000","size":40,"opacity":1},"encoding":{"x":{"field":"i","type":"quantitative","scale":{"domain":[-0.09,2.09],"range":[9,112],"nice":false,"zero":false},"axis":{"values":[0,1,2],"domain":true,"labelExpr":"['(a)','(b)','(c)'][datum.value]","title":null}},"y":{"field":"v","type":"quantitative","scale":{"type":"log","domain":[1e-6,1.8e-4],"nice":false},"axis":{"offset":-9,"values":[1e-6,1e-5,1e-4],"domain":true,"labelExpr":"'10' + ['⁰','⁻¹','⁻²','⁻³','⁻⁴','⁻⁵','⁻⁶','⁻⁷','⁻⁸'][-round(log(datum.value)/LN10)]","title":null}}}},
  {"data":{"values":[{}]},"mark":{"type":"text","align":"center","baseline":"middle","fontStyle":"italic"},"encoding":{"x":{"datum":0.76,"type":"quantitative","axis":null},"y":{"datum":9.6e-5,"type":"quantitative","axis":null},"text":{"value":"δ⟨ω¹⟩"}}},
  {"data":{"name":"d5b"},"mark":{"type":"point","opacity":0},"encoding":{"x":{"field":"i","type":"quantitative","axis":{"orient":"top","values":[0,1,2],"domain":true,"labels":false,"title":null}},"y":{"field":"v","type":"quantitative","axis":{"orient":"right","offset":-8,"values":[1e-5,1e-4],"domain":true,"labels":false,"title":null}}}}
 ]},
 {"width":5,"height":10,"view":{"stroke":"transparent"},"data":{"values":[{}]},"mark":{"type":"point","opacity":0}},
 {"width":120,"height":82,"view":{"stroke":"transparent"},"resolve":{"axis":{"x":"independent","y":"independent"}},"layer":[
  {"data":{"name":"d5c"},"mark":{"type":"circle","color":"#ff0000","size":40,"opacity":1},"encoding":{"x":{"field":"i","type":"quantitative","scale":{"domain":[-0.09,2.09],"range":[17,120],"nice":false,"zero":false},"axis":{"values":[0,1,2],"domain":true,"labelExpr":"['(a)','(b)','(c)'][datum.value]","title":null}},"y":{"field":"v","type":"quantitative","scale":{"type":"log","domain":[1e-6,2.1e-3],"nice":false},"axis":{"offset":-17,"values":[1e-6,1e-5,1e-4,1e-3],"domain":true,"labelExpr":"'10' + ['⁰','⁻¹','⁻²','⁻³','⁻⁴','⁻⁵','⁻⁶','⁻⁷','⁻⁸'][-round(log(datum.value)/LN10)]","title":null}}}},
  {"data":{"values":[{}]},"mark":{"type":"text","align":"center","baseline":"middle","fontStyle":"italic"},"encoding":{"x":{"datum":0.76,"type":"quantitative","axis":null},"y":{"datum":8.3e-4,"type":"quantitative","axis":null},"text":{"value":"δ⟨ω⁻¹⟩"}}},
  {"data":{"name":"d5c"},"mark":{"type":"point","opacity":0},"encoding":{"x":{"field":"i","type":"quantitative","axis":{"orient":"top","values":[0,1,2],"domain":true,"labels":false,"title":null}},"y":{"field":"v","type":"quantitative","axis":{"orient":"right","values":[1e-5,1e-4,1e-3],"domain":true,"labels":false,"title":null}}}}
 ]}
]
}
